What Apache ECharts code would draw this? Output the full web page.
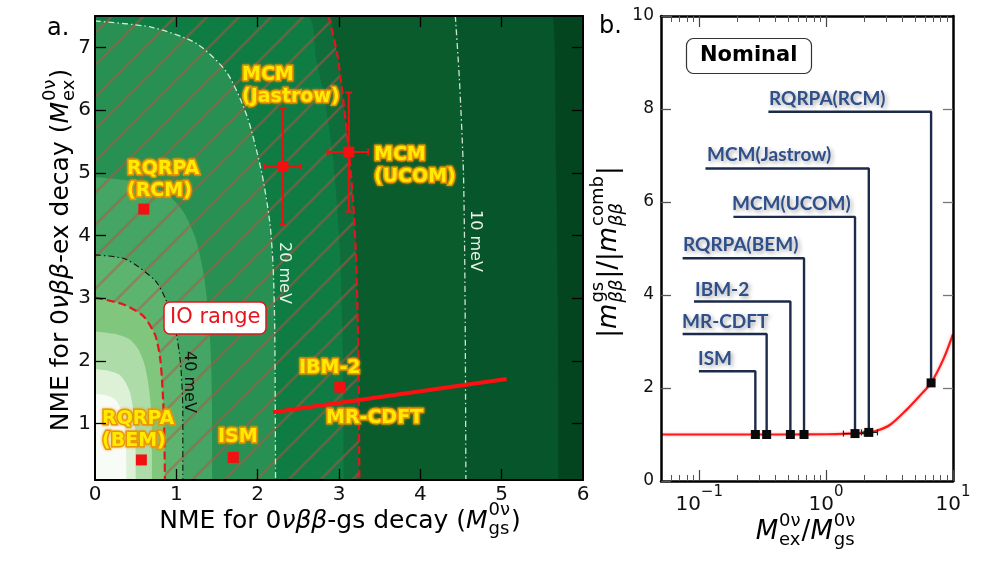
<!DOCTYPE html>
<html><head><meta charset="utf-8">
<script src="https://cdn.jsdelivr.net/npm/echarts@6/dist/echarts.min.js"></script>
<style>html,body{margin:0;padding:0;background:#fff}#c{width:996px;height:563px}</style>
</head><body><div id="c"></div>
<script>
// ================= DATA =================
// Panel a: edges of the filled-contour bands, x = M_gs, y = M_ex (outermost first)
const edge8meV   = [[0,7.5],[5.62,7.5],[5.67,5.0],[5.69,3.0],[5.70,0.1]];
const edge10meV  = [[0,7.5],[4.43,7.5],[4.48,6.5],[4.53,5.0],[4.55,3.0],[4.56,0.1]];
const edgeIOlow  = [[0,7.5],[2.87,7.5],[2.92,7.24],[2.99,6.81],[3.11,5.48],[3.17,4.6],[3.21,3.62],[3.24,2.0],[3.25,0.1]];
const edge15meV  = [[0,7.5],[2.6,7.5],[2.72,6.81],[2.82,6.2],[2.93,5.2],[3.01,3.8],[3.05,2.0],[3.06,0.1]];
const edge20meV  = [[0,7.42],[0.7,7.32],[1.25,7.06],[1.62,6.6],[1.87,5.9],[2.05,5.0],[2.15,4.2],[2.19,3.5],[2.21,2.5],[2.22,0.1]];
const edge30meV  = [[0,4.93],[0.50,4.86],[0.86,4.68],[1.08,4.39],[1.24,3.94],[1.34,3.35],[1.40,2.66],[1.43,1.87],[1.44,0.99],[1.44,0.1]];
const edge40meV  = [[0,3.69],[0.38,3.62],[0.74,3.28],[0.87,2.98],[0.98,2.56],[1.05,1.98],[1.08,1.18],[1.08,0.1]];
const edgeIOhigh = [[0,3.01],[0.35,2.9],[0.59,2.72],[0.74,2.41],[0.80,2.05],[0.83,1.57],[0.85,0.94],[0.86,0.1]];
const edge65meV  = [[0,2.47],[0.245,2.43],[0.42,2.35],[0.525,2.20],[0.60,1.98],[0.65,1.68],[0.683,1.33],[0.697,0.94],[0.70,0.49],[0.70,0.1]];
const edge90meV  = [[0,1.87],[0.175,1.84],[0.30,1.78],[0.375,1.66],[0.43,1.50],[0.465,1.27],[0.488,1.01],[0.498,0.71],[0.50,0.37],[0.50,0.1]];
const edge115meV = [[0,1.47],[0.135,1.45],[0.231,1.40],[0.289,1.31],[0.331,1.18],[0.358,1.0],[0.375,0.79],[0.383,0.56],[0.385,0.29],[0.385,0.1]];

// Panel a: NME values of the models
const modelsA = ['RQRPA(RCM)','RQRPA(BEM)','ISM','IBM-2','MCM(Jastrow)','MCM(UCOM)'];
const mgsA    = [0.60, 0.57, 1.70, 3.01, 2.31, 3.12];
const mexA    = [4.42, 0.42, 0.46, 1.58, 5.10, 5.33];
// error bars [x, y, xlo, xhi, ylo, yhi]
const errA = [[2.31,5.10,2.09,2.53,4.18,6.02],[3.12,5.33,2.86,3.36,4.38,6.28]];
// MR-CDFT band (line)
const mrcdftGs = [2.19, 5.06];
const mrcdftEx = [1.18, 1.71];

// Panel b
const xTicksB   = [0.1, 1, 10];
const xMinorB   = [0.06,0.07,0.08,0.09,0.2,0.3,0.4,0.5,0.6,0.7,0.8,0.9,2,3,4,5,6,7,8,9];
const modelsB   = ['ISM','MR-CDFT','IBM-2','RQRPA(BEM)','MCM(UCOM)','MCM(Jastrow)','RQRPA(RCM)'];
const ratioB    = [0.277, 0.34, 0.523, 0.67, 1.69, 2.17, 6.72];
const mRatioB   = [1.0, 1.0, 1.0, 1.0, 1.02, 1.045, 2.11];
const leaderTop = [2.36, 3.16, 3.86, 4.79, 5.68, 6.72, 7.94];
const leaderLeft= [0.0995, 0.074, 0.091, 0.074, 0.186, 0.112, 0.351];
const errB = [[1.69,1.02,1.37,2.0,1.02,1.02],[2.17,1.045,1.9,2.54,1.045,1.045]];
const curveX = [0.05, 0.2, 0.5, 1.0, 1.5, 2.0, 2.5, 3.2, 4.3, 5.5, 6.72, 8.4, 10];
const curveY = [1.0, 1.0, 1.0, 1.005, 1.02, 1.04, 1.08, 1.21, 1.53, 1.84, 2.11, 2.62, 3.16];

// ================= STYLE / LAYOUT =================
const FONT = '"DejaVu Sans", sans-serif';
const chart = echarts.init(document.getElementById('c'));

const hatch = document.createElement('canvas'); hatch.width = hatch.height = 32;
(function(){ const h = hatch.getContext('2d'); h.strokeStyle = 'rgba(170,92,70,0.5)'; h.lineWidth = 2.6;
  [0,32,64].forEach(k => { h.beginPath(); h.moveTo(-8, k+8); h.lineTo(40, k-40); h.stroke(); }); })();

function band(data, color) {
  return {type:'line', xAxisIndex:0, yAxisIndex:0, data, symbol:'none', silent:true, smooth:0.25,
    lineStyle:{width:0}, areaStyle:{color, opacity:1, origin:'start'}, z:1};
}
function cline(data, color, type, width, z) {
  return {type:'line', xAxisIndex:0, yAxisIndex:0, data, symbol:'none', silent:true, smooth:0.25,
    lineStyle:{color, type, width}, z: z || 3};
}
function errorBars(data, xi, yi, color, width, cap) {
  return {type:'custom', xAxisIndex:xi, yAxisIndex:yi, data, z:6, silent:true,
    renderItem:(p, api) => {
      const x=api.value(0), y=api.value(1), x0=api.value(2), x1=api.value(3), y0=api.value(4), y1=api.value(5);
      const st = {stroke:color, lineWidth:width}; const ch = [];
      const L = (a,b) => ch.push({type:'line', shape:{x1:a[0],y1:a[1],x2:b[0],y2:b[1]}, style:st});
      if (x1 > x0) { const a = api.coord([x0,y]), b = api.coord([x1,y]); L(a,b);
        L([a[0],a[1]-cap],[a[0],a[1]+cap]); L([b[0],b[1]-cap],[b[0],b[1]+cap]); }
      if (y1 > y0) { const a = api.coord([x,y0]), b = api.coord([x,y1]); L(a,b);
        L([a[0]-cap,a[1]],[a[0]+cap,a[1]]); L([b[0]-cap,b[1]],[b[0]+cap,b[1]]); }
      return {type:'group', children:ch};
    }};
}

const series = [];
[[edge8meV,'#07552a'],[edge10meV,'#0a5c2d'],[edgeIOlow,'#0f6c3b'],[edge15meV,'#0e7c43'],
 [edge20meV,'#279052'],[edge30meV,'#45a564'],[edge40meV,'#5cb46e']].forEach(b => series.push(band(b[0], b[1])));
series.push(band(edgeIOlow, {image: hatch, repeat: 'repeat'}));
[[edgeIOhigh,'#80c77d'],[edge65meV,'#aedca8'],[edge90meV,'#ddf1d7'],[edge115meV,'#f8fcf6']].forEach(b => series.push(band(b[0], b[1])));

const DASHDOT = [6,3,1.5,3];
series.push(cline(edge10meV.slice(1), '#cfe3d3', DASHDOT, 1.3));
series.push(cline(edge20meV, '#d3e8d6', DASHDOT, 1.3));
series.push(cline(edge40meV, '#111', DASHDOT, 1.1));
series.push(cline(edgeIOlow.slice(1), '#e8141c', [8,4], 2.2, 4));
series.push(cline(edgeIOhigh, '#e8141c', [8,4], 2.2, 4));
series.push({type:'line', xAxisIndex:0, yAxisIndex:0, symbol:'none', silent:true, z:5,
  data: mrcdftGs.map((v,i) => [v, mrcdftEx[i]]), lineStyle:{color:'#ff1010', width:4}});
series.push(errorBars(errA, 0, 0, '#ee1111', 2, 3.5));
series.push({type:'scatter', xAxisIndex:0, yAxisIndex:0, symbol:'rect', symbolSize:11, z:7, silent:true,
  itemStyle:{color:'#f21010', opacity:1}, data: mgsA.map((v,i) => ({name: modelsA[i], value:[v, mexA[i]]}))});

// panel b
modelsB.forEach((m,i) => series.push({type:'line', xAxisIndex:2, yAxisIndex:2, symbol:'none', silent:true, z:3,
  data:[[leaderLeft[i], leaderTop[i]],[ratioB[i], leaderTop[i]],[ratioB[i], mRatioB[i]]],
  lineStyle:{color:'#1d2b4a', width:2.4}}));
series.push({type:'line', xAxisIndex:2, yAxisIndex:2, symbol:'none', silent:true, smooth:0.3, z:4,
  data: curveX.map((v,i) => [v, curveY[i]]),
  lineStyle:{color:'#ff1a1a', width:2.2, shadowColor:'rgba(255,60,60,0.45)', shadowBlur:3}});
series.push(errorBars(errB, 2, 2, '#222', 1.2, 3));
series.push({type:'scatter', xAxisIndex:2, yAxisIndex:2, symbol:'rect', symbolSize:9, z:7, silent:true,
  itemStyle:{color:'#0a0a0a', opacity:1}, data: ratioB.map((v,i) => ({name: modelsB[i], value:[v, mRatioB[i]]}))});

// ---- axes ----
const lab = (size, margin) => ({fontFamily:FONT, fontSize:size, color:'#111', margin});
const xAxis = [
  {gridIndex:0, type:'value', min:0, max:6, position:'bottom', z:10,
   axisLine:{onZero:false, lineStyle:{color:'#000', width:2}},
   axisTick:{inside:true, length:11, lineStyle:{color:'#000', width:1.3}, customValues:[1,2,3,4,5]},
   axisLabel:Object.assign(lab(20,5), {customValues:[0,1,2,3,4,5,6]}), splitLine:{show:false}},
  {gridIndex:0, type:'value', min:0, max:6, position:'top', z:10,
   axisLine:{onZero:false, lineStyle:{color:'#000', width:2}},
   axisTick:{inside:true, length:11, lineStyle:{color:'#000', width:1.3}, customValues:[1,2,3,4,5]},
   axisLabel:{show:false}, splitLine:{show:false}},
  {gridIndex:1, type:'log', logBase:10, min:0.05, max:10, position:'bottom', z:10,
   axisLine:{onZero:false, lineStyle:{color:'#000', width:2.5}},
   axisTick:{inside:true, length:11, lineStyle:{color:'#444', width:1.2}, customValues:xTicksB},
   axisLabel:{customValues:xTicksB, margin:4,
     formatter: v => { const e = Math.round(Math.log10(v)); return '{b|10}{s|' + (e < 0 ? '\u2212' : '') + Math.abs(e) + '}'; },
     rich:{ b:{fontFamily:FONT, fontSize:20, color:'#111', lineHeight:30, verticalAlign:'bottom'},
            s:{fontFamily:FONT, fontSize:15, color:'#111', lineHeight:14, verticalAlign:'top'} }},
   splitLine:{show:false}},
  {gridIndex:1, type:'log', logBase:10, min:0.05, max:10, position:'bottom', z:10, axisLine:{show:false, onZero:false},
   axisTick:{inside:true, length:6, lineStyle:{color:'#555', width:1}, customValues:xMinorB},
   axisLabel:{show:false}, splitLine:{show:false}},
  {gridIndex:1, type:'log', logBase:10, min:0.05, max:10, position:'top', z:10,
   axisLine:{onZero:false, lineStyle:{color:'#000', width:2.5}},
   axisTick:{inside:true, length:11, lineStyle:{color:'#444', width:1.2}, customValues:[0.1,1]},
   axisLabel:{show:false}, splitLine:{show:false}},
  {gridIndex:1, type:'log', logBase:10, min:0.05, max:10, position:'top', z:10, axisLine:{show:false, onZero:false},
   axisTick:{inside:true, length:6, lineStyle:{color:'#555', width:1}, customValues:xMinorB},
   axisLabel:{show:false}, splitLine:{show:false}}
];
const yAxis = [
  {gridIndex:0, type:'value', min:0.1, max:7.5, position:'left', z:10,
   axisLine:{onZero:false, lineStyle:{color:'#000', width:2}},
   axisTick:{inside:true, length:11, lineStyle:{color:'#000', width:1.3}, customValues:[1,2,3,4,5,6,7]},
   axisLabel:Object.assign(lab(20,4), {customValues:[1,2,3,4,5,6,7]}), splitLine:{show:false}},
  {gridIndex:0, type:'value', min:0.1, max:7.5, position:'right', z:10,
   axisLine:{onZero:false, lineStyle:{color:'#000', width:2}},
   axisTick:{inside:true, length:11, lineStyle:{color:'#000', width:1.3}, customValues:[1,2,3,4,5,6,7]},
   axisLabel:{show:false}, splitLine:{show:false}},
  {gridIndex:1, type:'value', min:0, max:10, interval:2, position:'left', z:10,
   axisLine:{onZero:false, lineStyle:{color:'#000', width:2.5}},
   axisTick:{inside:true, length:10, lineStyle:{color:'#555', width:1.3}},
   axisLabel:lab(17,7), splitLine:{show:false}},
  {gridIndex:1, type:'value', min:0, max:10, interval:2, position:'right', z:10,
   axisLine:{onZero:false, lineStyle:{color:'#000', width:2.5}},
   axisTick:{inside:true, length:10, lineStyle:{color:'#777', width:1.3}, customValues:[2,4,6,8]},
   axisLabel:{show:false}, splitLine:{show:false}}
];

// ---- texts ----
const yellow = (text, left, top) => ({text, left, top, padding:0, textStyle:{fontFamily:FONT, fontWeight:'bold',
  fontSize:19, lineHeight:22, color:'#ffea00', textBorderColor:'#ec9600', textBorderWidth:3,
  textShadowColor:'rgba(240,150,0,0.7)', textShadowBlur:3}});
const blue = (text, left, top) => ({text, left, top, padding:0, textStyle:{fontFamily:'Lato, sans-serif', fontWeight:'bold',
  fontSize:19, lineHeight:20, color:'#2e4f8a', textShadowColor:'rgba(0,0,0,0.35)', textShadowBlur:4,
  textShadowOffsetX:2, textShadowOffsetY:2}});
const title = [
  yellow('MCM\n(Jastrow)', 242, 64), yellow('MCM\n(UCOM)', 374, 144), yellow('RQRPA\n(RCM)', 127, 158),
  yellow('RQRPA\n(BEM)', 102, 408), yellow('ISM', 218, 426), yellow('IBM-2', 299, 357), yellow('MR-CDFT', 326, 407),
  blue('RQRPA(RCM)', 769, 89), blue('MCM(Jastrow)', 707, 145), blue('MCM(UCOM)', 732, 194), blue('RQRPA(BEM)', 683, 235),
  blue('IBM-2', 695, 280), blue('MR-CDFT', 682, 312), blue('ISM', 698, 349),
  {text:'a.', left:47, top:17, padding:0, textStyle:{fontFamily:FONT, fontWeight:'normal', fontSize:24, color:'#000'}},
  {text:'b.', left:599, top:15, padding:0, textStyle:{fontFamily:FONT, fontWeight:'normal', fontSize:24, color:'#000'}},
  {text:'Nominal', left:686, top:38, padding:[5,14], borderColor:'#333', borderWidth:1.2, borderRadius:7,
   backgroundColor:'#fff', textStyle:{fontFamily:FONT, fontWeight:'bold', fontSize:21, lineHeight:26, color:'#000'}},
  {text:'IO range', left:164, top:302, padding:[4,6], borderColor:'#e8141c', borderWidth:1.5, borderRadius:6,
   backgroundColor:'#fff', textStyle:{fontFamily:FONT, fontWeight:'normal', fontSize:21, lineHeight:24, color:'#e8141c'}}
];

const mctx = document.createElement('canvas').getContext('2d');
function tw(t, font){ mctx.font = font; return mctx.measureText(t).width; }
function mathText(parts, size, cx, cy, rotation) {
  const ch = []; let x = 0; const s2 = Math.round(size * 0.7);
  const mk = (t, font, xx, yy) => ({type:'text', x:xx, y:yy, silent:true,
    style:{text:t, font, fill:'#000', textAlign:'left', textVerticalAlign:'middle', align:'left', verticalAlign:'middle'}});
  parts.forEach(p => {
    if (typeof p === 'string' || p.it !== undefined) {
      const t = typeof p === 'string' ? p : p.it;
      const font = (typeof p === 'string' ? '' : 'italic ') + size + 'px ' + FONT;
      ch.push(mk(t, font, x, 0)); x += tw(t, font);
    } else {
      const fSup = (p.supIt ? 'italic ' : '') + s2 + 'px ' + FONT;
      const fSub = (p.subIt ? 'italic ' : '') + s2 + 'px ' + FONT;
      ch.push(mk(p.sup, fSup, x + 1, -size * 0.42));
      ch.push(mk(p.sub, fSub, x + 1, size * 0.32));
      x += Math.max(tw(p.sup, fSup), tw(p.sub, fSub)) + 2;
    }
  });
  ch.forEach(c => c.x -= x / 2);
  return {type:'group', x:cx, y:cy, rotation, silent:true, children:ch};
}
const vlabel = (t, x, y, color) => ({type:'text', x, y, rotation:-Math.PI/2, silent:true, z:50,
  style:{text:t, font:'16px ' + FONT, fill:color, textAlign:'center', textVerticalAlign:'middle', align:'center', verticalAlign:'middle'}});

const graphic = [
  mathText(['NME for 0', {it:'νββ'}, '-gs decay (', {it:'M'}, {sup:'0ν', sub:'gs'}, ')'], 25, 340, 521, 0),
  mathText(['NME for 0', {it:'νββ'}, '-ex decay (', {it:'M'}, {sup:'0ν', sub:'ex'}, ')'], 25, 61, 250, Math.PI/2),
  mathText([{it:'M'}, {sup:'0ν', sub:'ex'}, '/', {it:'M'}, {sup:'0ν', sub:'gs'}], 26, 806, 532, 0),
  mathText(['|', {it:'m'}, {sup:'gs', sub:'ββ', subIt:true}, '|/|', {it:'m'}, {sup:'comb', sub:'ββ', subIt:true}, '|'], 26, 609, 252, Math.PI/2),
  vlabel('20 meV', 284, 273, '#e6f2e6'),
  vlabel('10 meV', 475, 241, '#e6f2e6'),
  vlabel('40 meV', 189, 382, '#111')
];

chart.setOption({
  animation:false,
  grid:[{left:95, top:16, width:488, height:464, show:true, backgroundColor:'#03451f', borderWidth:0},
        {left:661, top:16, width:292, height:465, show:false}],
  xAxis, yAxis, series, title, graphic
});
</script></body></html>
